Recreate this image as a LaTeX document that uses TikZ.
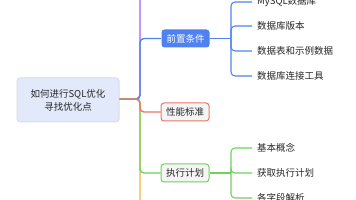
\documentclass[tikz,border=0pt]{standalone}
\usepackage{fontspec}
\setmainfont{Noto Sans CJK SC}
\usetikzlibrary{positioning,calc}
\definecolor{purplebr}{HTML}{A35CF2}
\definecolor{bluebr}{HTML}{4F82F0}
\definecolor{redbr}{HTML}{F07368}
\definecolor{greenbr}{HTML}{6CD35A}
\definecolor{orangebr}{HTML}{F5B041}
\definecolor{rootfill}{HTML}{E2E9FB}
\definecolor{rootline}{HTML}{D9DDE5}
\tikzset{
  rootbox/.style={draw=rootline,line width=1pt,fill=rootfill,rounded corners=3pt,
    minimum width=102pt,minimum height=44pt,align=center,inner sep=0pt},
  topic/.style={rounded corners=3pt,minimum width=48pt,minimum height=18pt,inner sep=0pt,line width=1pt},
  leaf/.style={anchor=west,inner xsep=5pt,inner ysep=1pt},
  branch/.style={line width=1.4pt,rounded corners=4pt},
  twig/.style={line width=1.1pt,rounded corners=4pt},
}

\begin{document}
\begin{tikzpicture}[x=1pt,y=-1pt,
  every node/.style={font=\fontsize{9.5}{13}\selectfont,text=black!85}
]
\useasboundingbox (0,0) rectangle (356,200);
\clip (0,0) rectangle (356,200);

\node[rootbox] (root) at (68,100) {如何进行SQL优化\\寻找优化点};

\coordinate (hub) at (140,99);
\coordinate (upend) at (140,-20);
\coordinate (downend) at (140,220);

\node[topic,fill=bluebr,text=white] (pre) at (185.5,38.5) {前置条件};
\node[topic,draw=redbr,fill=black!4] (perf) at (185,112) {性能标准};
\node[topic,draw=greenbr,fill=black!4] (plan) at (185,173) {执行计划};

% sub items
\coordinate (prehub) at (231,38.5);
\node[leaf] (mysql) at (252,2) {MySQL数据库};
\node[leaf] (ver) at (252,26) {数据库版本};
\node[leaf] (data) at (252,51) {数据表和示例数据};
\node[leaf] (tool) at (252,76) {数据库连接工具};

\coordinate (planhub) at (231,173);
\node[leaf] (basic) at (252,148) {基本概念};
\node[leaf] (get) at (252,173) {获取执行计划};
\node[leaf] (field) at (252,198) {各字段解析};

% main branches
\draw[branch,purplebr] (root.east |- hub) -- (hub) -- (upend);
\draw[branch,orangebr] (root.east |- hub) -- (hub) -- (downend);
\draw[branch,bluebr] (root.east |- hub) -- (hub) |- (pre.west);
\draw[branch,greenbr] (root.east |- hub) -- (hub) |- (plan.west);
\draw[branch,redbr] (root.east |- hub) -- (hub) |- (perf.west);

% twigs
\draw[twig,bluebr] (pre.east) -- (prehub);
\foreach \n in {mysql,ver,data,tool}
  \draw[twig,bluebr] (prehub) |- (\n.west);
\draw[twig,greenbr] (plan.east) -- (planhub);
\foreach \n in {basic,get,field}
  \draw[twig,greenbr] (planhub) |- (\n.west);

\end{tikzpicture}
\end{document}
